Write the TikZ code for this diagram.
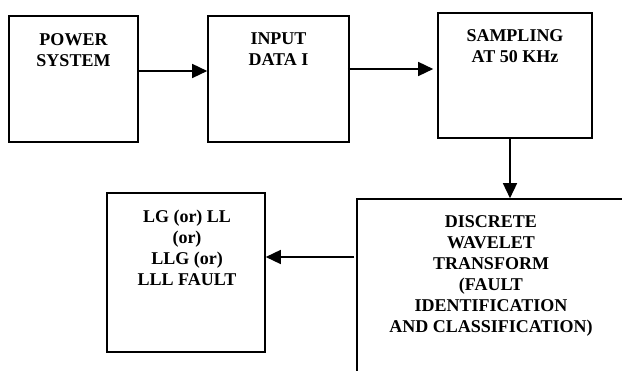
\documentclass[tikz,border=0pt]{standalone}
\usepackage{fontspec}
\setmainfont{Liberation Serif}
\usetikzlibrary{arrows.meta}
\tikzset{
  blk/.style={draw=black, line width=1.6pt, inner sep=0pt, minimum width=#1},
  blk/.default=100pt,
  lbl/.style={anchor=north, inner sep=0pt, align=center, font={\fontsize{18}{21}\selectfont\bfseries}},
  arr/.style={line width=1.5pt, -{Triangle[length=15pt,width=14pt]}}
}
\begin{document}
\begin{tikzpicture}[x=1pt,y=-1pt]
\useasboundingbox[fill=white] (0,0) rectangle (622,371);
% boxes
\node[blk=129pt, minimum height=126pt] (ps) at (73.5,79) {};
\node[blk=141pt, minimum height=126pt] (in) at (278.5,79) {};
\node[blk=154pt, minimum height=125pt] (sa) at (515,75.5) {};
\node[blk=158pt, minimum height=159pt] (fa) at (186,272.5) {};
\node[blk=268pt, minimum height=201pt] (dw) at (491,299.5) {};
% texts
\node[lbl] (tps) at (73.5,33) {POWER\\SYSTEM};
\node[lbl] (tin) at (278.5,33) {INPUT\\DATA I};
\node[lbl] (tsa) at (515,29.5) {SAMPLING\\AT 50 KHz};
\node[lbl] (tfa) at (187,210.3) {LG (or) LL\\(or)\\LLG (or)\\LLL FAULT};
\node[lbl] (tdw) at (491,215.3) {DISCRETE\\WAVELET\\TRANSFORM\\(FAULT\\IDENTIFICATION\\AND CLASSIFICATION)};
% helper levels
\coordinate (y1) at (0,71);
\coordinate (y2) at (0,69);
\coordinate (x3) at (510,0);
\coordinate (y4) at (0,257);
% connectors
\draw[arr] (ps.east |- y1) -- (in.west |- y1);
\draw[arr] ([xshift=-2pt]in.east |- y2) -- ([xshift=-4pt]sa.west |- y2);
\draw[arr] (sa.south -| x3) -- (dw.north -| x3);
\draw[arr] ([xshift=-2pt]dw.west |- y4) -- (fa.east |- y4);
\end{tikzpicture}
\end{document}
